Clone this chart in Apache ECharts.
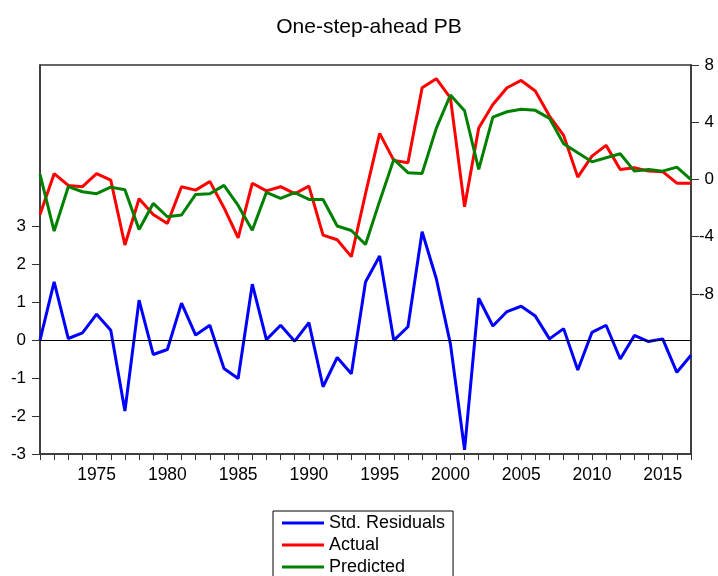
<!DOCTYPE html>
<html>
<head>
<meta charset="utf-8">
<script src="https://cdn.jsdelivr.net/npm/echarts@6/dist/echarts.min.js"></script>
<style>
html, body { margin: 0; padding: 0; background: #fff; }
#chart { width: 718px; height: 576px; }
</style>
</head>
<body>
<div id="chart"></div>
<script>
var years = [];
for (var y = 1971; y <= 2017; y++) years.push(y);

var yearLabels = [1975, 1980, 1985, 1990, 1995, 2000, 2005, 2010, 2015];
var leftTicks = [-3, -2, -1, 0, 1, 2, 3];
var rightTicks = [-8, -4, 0, 4, 8];

var residuals = [0.00, 1.53, 0.04, 0.19, 0.68, 0.26, -1.87, 1.05, -0.38, -0.25,
	0.97, 0.13, 0.39, -0.75, -1.01, 1.47, 0.01, 0.39, -0.03, 0.46,
	-1.23, -0.46, -0.89, 1.53, 2.21, -0.01, 0.35, 2.85, 1.62, -0.10,
	-2.89, 1.10, 0.37, 0.75, 0.89, 0.63, 0.03, 0.30, -0.79, 0.20,
	0.39, -0.50, 0.12, -0.04, 0.03, -0.85, -0.40];

var actual = [-2.45, 0.40, -0.42, -0.51, 0.40, -0.05, -4.59, -1.35, -2.45, -3.08,
	-0.51, -0.75, -0.14, -1.98, -4.08, -0.27, -0.80, -0.51, -1.00, -0.47,
	-3.90, -4.22, -5.40, -1.00, 3.22, 1.33, 1.17, 6.41, 7.04, 5.70,
	-1.91, 3.60, 5.24, 6.41, 6.92, 6.18, 4.43, 3.08, 0.16, 1.63,
	2.38, 0.70, 0.82, 0.58, 0.54, -0.26, -0.26];

var predicted = [0.35, -3.61, -0.51, -0.86, -1.00, -0.54, -0.72, -3.50, -1.68, -2.61,
	-2.49, -1.05, -1.00, -0.42, -1.82, -3.55, -0.90, -1.33, -0.93, -1.40,
	-1.40, -3.26, -3.57, -4.55, -1.52, 1.40, 0.47, 0.42, 3.57, 5.90,
	4.80, 0.70, 4.36, 4.73, 4.90, 4.83, 4.27, 2.50, 1.86, 1.23,
	1.51, 1.79, 0.58, 0.70, 0.58, 0.86, -0.02];

function pairs(vals) {
	return years.map(function(yr, i) { return [yr, vals[i]]; });
}

var chart = echarts.init(document.getElementById('chart'));
var font = 'Liberation Sans, Arial, sans-serif';
var option = {
	animation : false,
	backgroundColor : '#fff',
	title : {
		text : 'One-step-ahead PB',
		left : 364,
		top : 12,
		textAlign : 'center',
		textStyle : { fontFamily : font, fontSize : 21, fontWeight : 'normal', color : '#000' }
	},
	legend : {
		orient : 'vertical',
		left : 273,
		top : 511,
		height : 200,
		padding : [3, 8, 20, 9],
		borderColor : '#000',
		borderWidth : 1,
		itemWidth : 42,
		itemHeight : 3,
		itemGap : 4,
		icon : 'rect',
		textStyle : { fontFamily : font, fontSize : 18, color : '#000' },
		data : ['Std. Residuals', 'Actual', 'Predicted']
	},
	grid : {
		left : 40,
		right : 27,
		top : 65,
		bottom : 122,
		show : true,
		borderColor : '#333',
		borderWidth : 1.5
	},
	xAxis : {
		type : 'value',
		min : 1971,
		max : 2017,
		interval : 1,
		axisLine : { onZero : false, lineStyle : { color : '#333', width : 1.5 } },
		axisTick : { customValues : years, length : 6, lineStyle : { color : '#333' } },
		axisLabel : {
			customValues : yearLabels,
			formatter : function(v) { return String(v); },
			color : '#000', fontFamily : font, fontSize : 17.5, margin : 12
		},
		splitLine : { show : false }
	},
	yAxis : [ {
		type : 'value',
		min : -3,
		max : 7.24,
		position : 'left',
		axisLine : { show : true, lineStyle : { color : '#333', width : 1.5 } },
		axisTick : { show : true, customValues : leftTicks, length : 8, lineStyle : { color : '#333' } },
		axisLabel : { customValues : leftTicks, color : '#000', fontFamily : font, fontSize : 17, margin : 14 },
		splitLine : { show : false }
	}, {
		type : 'value',
		min : -19.2,
		max : 8,
		position : 'right',
		axisLine : { show : true, lineStyle : { color : '#333', width : 1.5 } },
		axisTick : { show : true, customValues : rightTicks, length : 8, lineStyle : { color : '#333' } },
		axisLabel : { customValues : rightTicks, align : 'right', color : '#000', fontFamily : font, fontSize : 17, margin : 23 },
		splitLine : { show : false }
	} ],
	series : [ {
		type : 'line',
		name : 'Std. Residuals',
		yAxisIndex : 0,
		data : pairs(residuals),
		symbol : 'none',
		color : '#0000ff',
		lineStyle : { width : 3 },
		markLine : {
			silent : true,
			symbol : 'none',
			label : { show : false },
			lineStyle : { color : '#000', width : 1, type : 'solid' },
			data : [ { yAxis : 0 } ]
		}
	}, {
		type : 'line',
		name : 'Actual',
		yAxisIndex : 1,
		data : pairs(actual),
		symbol : 'none',
		color : '#ff0000',
		lineStyle : { width : 3 }
	}, {
		type : 'line',
		name : 'Predicted',
		yAxisIndex : 1,
		data : pairs(predicted),
		symbol : 'none',
		color : '#008000',
		lineStyle : { width : 3 }
	} ]
};
chart.setOption(option);

window.onresize = function() {
	chart.resize();
};
</script>
</body>
</html>
